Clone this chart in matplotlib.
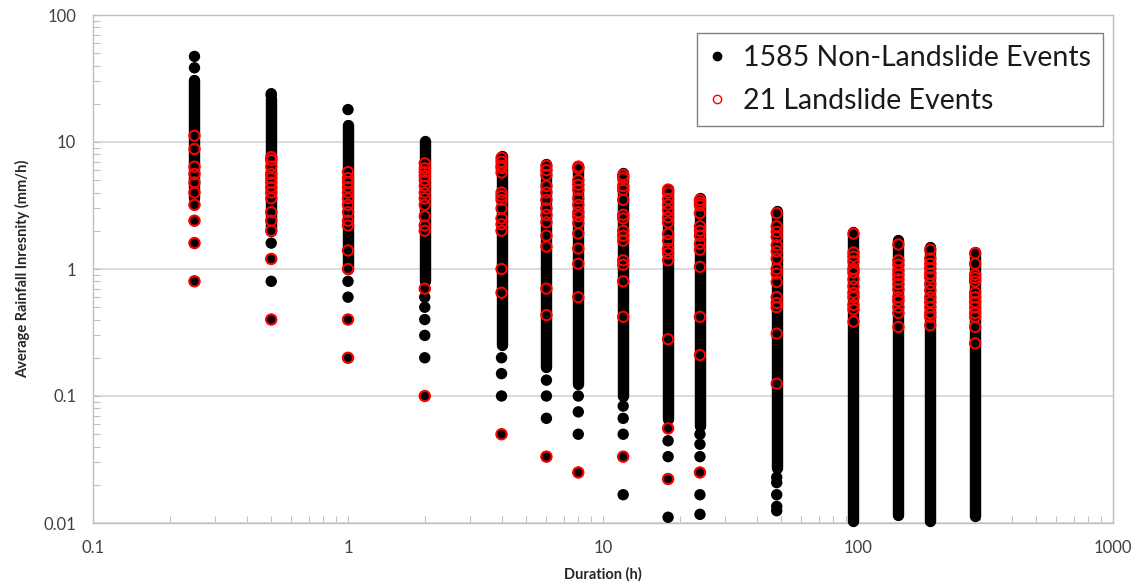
import matplotlib
matplotlib.use("Agg")
import matplotlib.pyplot as plt
from matplotlib.lines import Line2D
from matplotlib.ticker import LogLocator, FixedLocator, FixedFormatter, NullFormatter

plt.rcParams['font.family'] = ['Lato', 'DejaVu Sans']

# Rainfall durations (h)
durations = [0.25, 0.5, 1, 2, 4, 6, 8, 12, 18, 24, 48, 96, 144, 192, 288]

# Non-landslide events: continuous stack of points, top and bottom (mm/h)
dense_hi = [31.0, 22.0, 13.6, 10.2, 7.75, 6.7, 6.5, 5.7, 4.3, 3.6, 2.85, 1.95, 1.7, 1.5, 1.35]
dense_lo = [3.6, 2.0, 1.0, 0.8, 0.25, 0.17, 0.125, 0.1, 0.066, 0.058, 0.027, 0.0104, 0.0115, 0.0104, 0.0113]

# Non-landslide events: isolated points outside the continuous stack (mm/h)
nl_sparse = [
    [47.2, 38.4, 3.2, 2.4, 1.6, 0.8],
    [24.0, 23.2, 1.6, 1.2, 0.8, 0.4],
    [18.0, 0.8, 0.6, 0.4, 0.2],
    [0.7, 0.6, 0.5, 0.4, 0.3, 0.2, 0.1],
    [0.2, 0.15, 0.1, 0.05],
    [0.1333, 0.1, 0.0667, 0.0333],
    [0.1, 0.075, 0.05, 0.025],
    [0.0833, 0.0667, 0.05, 0.0333, 0.0167],
    [0.0556, 0.0444, 0.0333, 0.0222, 0.0111],
    [0.05, 0.0417, 0.0333, 0.025, 0.0167, 0.0117],
    [0.0229, 0.0208, 0.0167, 0.0135, 0.0125],
    [],
    [],
    [],
    [],
]

# Landslide events (mm/h)
ls_values = [
    [11.2, 8.8, 6.4, 5.6, 4.8, 4.0, 3.2, 2.4, 1.6, 0.8],
    [7.6, 7.2, 6.4, 5.6, 5.2, 4.8, 4.4, 4.0, 3.6, 2.8, 2.4, 2.0, 1.2, 0.4],
    [5.8, 5.2, 4.8, 4.4, 4.0, 3.6, 3.2, 2.8, 2.4, 2.2, 1.4, 1.0, 0.4, 0.2],
    [6.8, 6.2, 5.8, 5.4, 5.0, 4.5, 4.0, 3.6, 3.2, 2.6, 2.2, 2.0, 0.7, 0.1],
    [7.5, 7.0, 6.5, 6.25, 5.75, 4.0, 3.75, 3.5, 3.0, 2.5, 2.25, 2.0, 1.0, 0.65, 0.05],
    [6.5, 6.0, 5.5, 4.5, 4.0, 3.5, 3.0, 2.67, 2.33, 1.83, 1.5, 0.7, 0.4333, 0.0333],
    [6.4, 6.2, 5.0, 4.6, 4.2, 3.6, 3.2, 2.8, 2.6, 2.3, 1.9, 1.45, 1.1, 0.6, 0.025],
    [5.5, 5.2, 4.5, 4.2, 3.5, 2.67, 2.5, 2.0, 1.83, 1.67, 1.17, 1.08, 0.8, 0.42, 0.0333],
    [4.22, 4.0, 3.56, 3.22, 2.89, 2.56, 2.33, 1.89, 1.67, 1.44, 1.33, 1.17, 0.28, 0.0556, 0.0222],
    [3.5, 3.33, 3.17, 2.75, 2.17, 2.0, 1.83, 1.58, 1.42, 1.04, 0.42, 0.21, 0.025],
    [2.75, 2.17, 1.96, 1.79, 1.54, 1.38, 1.21, 1.0, 0.92, 0.79, 0.6, 0.54, 0.5, 0.31, 0.125],
    [1.9, 1.35, 1.25, 1.15, 1.0, 0.94, 0.83, 0.73, 0.65, 0.6, 0.52, 0.48, 0.385],
    [1.56, 1.17, 1.08, 0.97, 0.9, 0.83, 0.76, 0.69, 0.6, 0.56, 0.5, 0.45, 0.35],
    [1.42, 1.21, 1.1, 1.01, 0.92, 0.86, 0.76, 0.68, 0.6, 0.55, 0.5, 0.45, 0.42, 0.36],
    [1.33, 1.1, 0.9, 0.85, 0.8, 0.65, 0.6, 0.55, 0.5, 0.45, 0.42, 0.35, 0.26],
]

x_ticks = [0.1, 1, 10, 100, 1000]
x_tick_labels = ["0.1", "1", "10", "100", "1000"]
y_ticks = [0.01, 0.1, 1, 10, 100]
y_tick_labels = ["0.01", "0.1", "1", "10", "100"]

legend_labels = ["1585 Non-Landslide Events", "21 Landslide Events"]

W, H, DPI = 1139, 586, 100
fig = plt.figure(figsize=(W / DPI, H / DPI), dpi=DPI)
ax = fig.add_axes([93 / W, 1 - 523 / H, (1113 - 93) / W, (523 - 15) / H])

ax.set_xscale('log')
ax.set_yscale('log')
ax.set_xlim(0.1, 1000)
ax.set_ylim(0.01, 100)

msize_pt = 8.2  # marker diameter in points
s_area = msize_pt ** 2

# dense stacks of non-landslide events
vl = ax.vlines(durations, dense_lo, dense_hi, colors='black', linewidth=msize_pt,
               zorder=3, clip_on=False)
vl.set_capstyle('round')

# isolated non-landslide points
xs, ys = [], []
for d, vals in zip(durations, nl_sparse):
    xs += [d] * len(vals)
    ys += vals
ax.scatter(xs, ys, s=s_area, c='black', edgecolors='none', zorder=3, clip_on=False)

# landslide events
lx, ly = [], []
for d, vals in zip(durations, ls_values):
    lx += [d] * len(vals)
    ly += vals
ax.scatter(lx, ly, s=(msize_pt - 0.8) ** 2, facecolors='none', edgecolors='#FF0000',
           linewidths=1.5, zorder=4, clip_on=False)

# grid & spines
ax.yaxis.grid(True, which='major', color='#D9D9D9', linewidth=1.3, zorder=0)
ax.xaxis.grid(False)
ax.set_axisbelow(True)
for sp in ax.spines.values():
    sp.set_color('#BFBFBF')
    sp.set_linewidth(1.0)

ax.xaxis.set_major_locator(FixedLocator(x_ticks))
ax.xaxis.set_major_formatter(FixedFormatter(x_tick_labels))
ax.yaxis.set_major_locator(FixedLocator(y_ticks))
ax.yaxis.set_major_formatter(FixedFormatter(y_tick_labels))
ax.xaxis.set_minor_locator(LogLocator(base=10, subs=range(2, 10)))
ax.yaxis.set_minor_locator(LogLocator(base=10, subs=range(2, 10)))
ax.xaxis.set_minor_formatter(NullFormatter())
ax.yaxis.set_minor_formatter(NullFormatter())

ax.tick_params(which='both', direction='in', color='#BFBFBF', width=0.8)
ax.tick_params(which='major', length=5, labelsize=12, labelcolor='#404040')
ax.tick_params(which='minor', length=5)
ax.tick_params(axis='x', which='major', pad=12)
ax.tick_params(axis='y', which='major', pad=12)

ax.set_xlabel("Duration (h)", fontsize=10.5, fontweight='bold', color='#262626', labelpad=8)
ax.set_ylabel("Average Rainfall Inresnity (mm/h)", fontsize=10.5, fontweight='bold',
              color='#262626', labelpad=10)

handles = [
    Line2D([], [], ls='', marker='o', markersize=6, markerfacecolor='black',
           markeredgecolor='black'),
    Line2D([], [], ls='', marker='o', markersize=6, markerfacecolor='none',
           markeredgecolor='#FF0000', markeredgewidth=1.0),
]
leg = ax.legend(handles, legend_labels, loc='upper right', bbox_to_anchor=(0.990, 0.965),
                fontsize=20.5, frameon=True, fancybox=False, framealpha=1,
                edgecolor='#808080', handlelength=0.55, handletextpad=0.65,
                labelspacing=0.62, borderpad=0.42, borderaxespad=0)
leg.get_frame().set_linewidth(1.0)
for t in leg.get_texts():
    t.set_color('#1a1a1a')

fig.savefig("out.png", dpi=DPI)
